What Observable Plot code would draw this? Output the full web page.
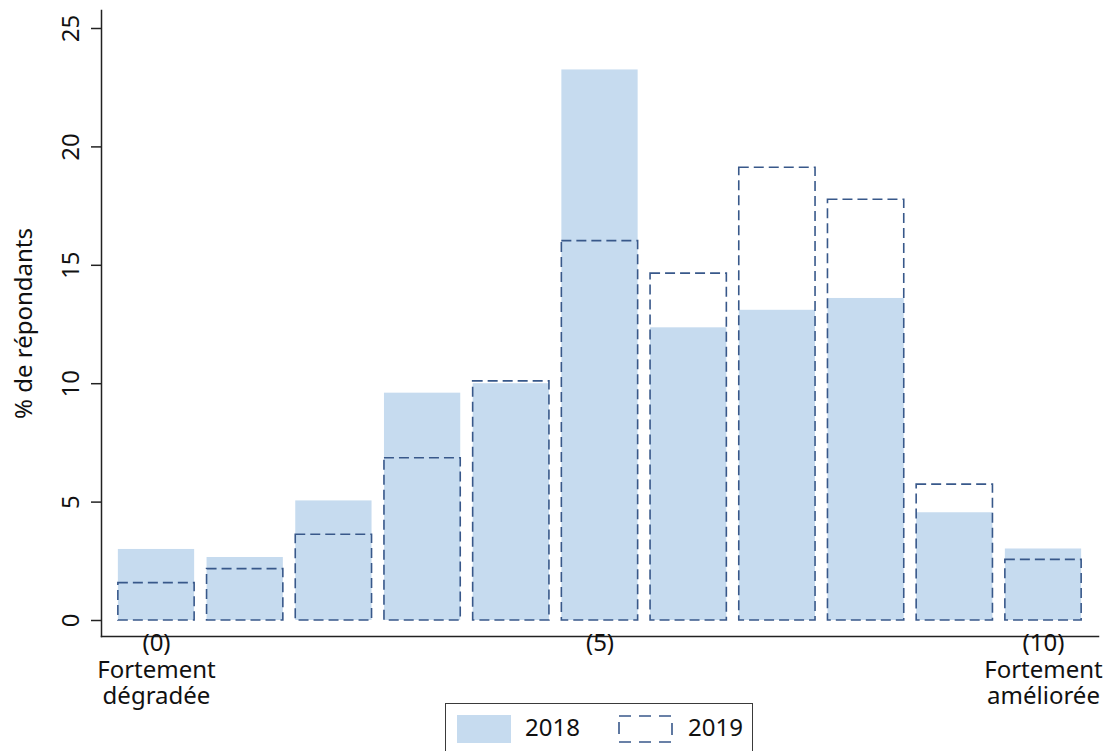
<!DOCTYPE html>
<html><head><meta charset="utf-8">
<script src="https://cdn.jsdelivr.net/npm/d3@7"></script>
<script src="https://cdn.jsdelivr.net/npm/@observablehq/plot@0.6"></script>
<style>
html,body{margin:0;padding:0;background:#fff;overflow:hidden;}
body{font-family:"Noto Sans",sans-serif;width:1110px;height:751px;position:relative;}
#chart svg{display:block;}
#legend{position:absolute;left:445px;top:703px;width:308px;height:60px;border:1.5px solid #3a3a3a;box-sizing:border-box;background:#fff;}
.sw{position:absolute;top:11px;}
.lab{position:absolute;top:8px;font-size:24px;color:#111;line-height:30px;}
</style></head><body><div id="chart"></div><div id="legend"></div>
<script>
const scores = [0,1,2,3,4,5,6,7,8,9,10];
const pct2018 = [3.0,2.66,5.05,9.6,10.0,23.25,12.36,13.1,13.6,4.55,3.02];
const pct2019 = [1.58,2.17,3.62,6.85,10.1,16.02,14.65,19.12,17.77,5.74,2.56];
const yTicks = [0,5,10,15,20,25];
const xTicks = [0,5,10];
const xTickLabels = ["(0)\nFortement\ndégradée","(5)","(10)\nFortement\naméliorée"];
const series = ["2018","2019"];
const yLabel = "% de répondants";

const fill2018 = "#c6dbef";
const stroke2019 = "#38588a";
const half = 0.43;

const d18 = scores.map((s,i)=>({score:s, v:pct2018[i]}));
const d19 = scores.map((s,i)=>({score:s, v:pct2019[i]}));

const chart = Plot.plot({
  width:1110, height:751,
  marginLeft:101, marginRight:12, marginTop:10, marginBottom:115,
  style:{fontFamily:"Noto Sans, sans-serif", fontSize:"24px", color:"#111", background:"#fff"},
  x:{domain:[-0.62,10.62]},
  y:{domain:[0,25], range:[620,28]},
  marks:[
    Plot.rectY(d18,{x1:d=>d.score-half, x2:d=>d.score+half, y1:0, y2:"v", fill:fill2018}),
    Plot.rectY(d19,{x1:d=>d.score-half, x2:d=>d.score+half, y1:0, y2:"v", fill:"none", stroke:stroke2019, strokeWidth:1.6, strokeDasharray:"10,5"}),
    Plot.frame({anchor:"left", stroke:"#222", strokeWidth:1.5}),
    Plot.frame({anchor:"bottom", stroke:"#222", strokeWidth:1.5}),
    Plot.axisY({ticks:yTicks, tickSize:10, tickFormat:()=>"", label:null, stroke:"#222", strokeWidth:1.5}),
    Plot.text(yTicks,{y:d=>d, frameAnchor:"left", dx:-30, rotate:-90, text:d=>String(d), textAnchor:"middle", fontSize:24, fill:"#111"}),
    Plot.text([yLabel],{frameAnchor:"left", dx:-77, rotate:-90, textAnchor:"middle", fontSize:24, fill:"#111"}),
    Plot.axisX({ticks:xTicks, tickSize:0, tickPadding:-4, tickFormat:(d)=>xTickLabels[xTicks.indexOf(d)], label:null, lineHeight:1.1, fontSize:24, fill:"#111"})
  ]
});
document.getElementById("chart").appendChild(chart);

const lg = document.getElementById("legend");
lg.innerHTML = `
<svg class="sw" style="left:11px" width="54" height="28"><rect x="0" y="0" width="54" height="28" fill="${fill2018}"/></svg>
<span class="lab" style="left:79px">${series[0]}</span>
<svg class="sw" style="left:172px" width="56" height="29"><rect x="1" y="1" width="53" height="26" fill="none" stroke="${stroke2019}" stroke-width="1.6" stroke-dasharray="12,8"/></svg>
<span class="lab" style="left:242px">${series[1]}</span>`;
</script>
</body></html>
